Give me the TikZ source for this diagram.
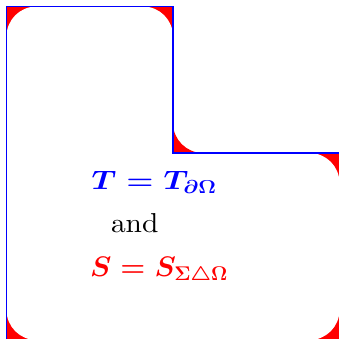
\RequirePackage{fix-cm}
\documentclass[tikz,border=0pt]{standalone}
\usepackage{graphicx}
\tikzset{
  outline/.style={draw=blue,line width=1.2pt},
  lbl/.style={inner sep=0pt,anchor=base west},
  mathbig/.style={font=\fontsize{27}{30}\selectfont\boldmath}
}
\begin{document}
\begin{tikzpicture}[x=1pt,y=1pt]
\useasboundingbox (0,0) rectangle (338,339);
\fill[red] (6.5,332.5) -- (173,332.5) -- (173,216)
  arc[start angle=180,end angle=270,radius=30] -- (339.5,186) -- (339.5,-1) -- (6.5,-1) -- cycle;
\fill[white] (6.5,302.5) arc[start angle=180,end angle=90,radius=30]
  -- (143,332.5) arc[start angle=90,end angle=0,radius=30]
  -- (173,186) -- (309.5,186) arc[start angle=90,end angle=0,radius=30]
  -- (339.5,29) arc[start angle=0,end angle=-90,radius=30]
  -- (36.5,-1) arc[start angle=270,end angle=180,radius=30] -- cycle;
\draw[outline] (6.5,332.5) -- (173,332.5) -- (173,186) -- (339.5,186) -- (339.5,-1) -- (6.5,-1) -- cycle;
\node[lbl,mathbig,text=blue] (tline) at (91.5,149) {\resizebox{125pt}{18.3pt}{$T = T_{\partial\Omega}$}};
\node[lbl] (conj) at (110.8,106) {\resizebox{47.5pt}{19pt}{and}};
\node[lbl,mathbig,text=red] (sline) at (89.8,62.3) {\resizebox{138pt}{19.4pt}{$S = S_{\Sigma\triangle\Omega}$}};
\end{tikzpicture}
\end{document}
